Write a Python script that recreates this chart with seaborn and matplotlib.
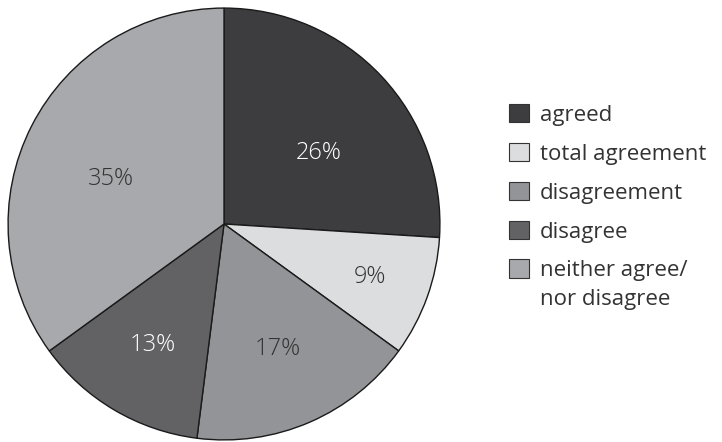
import matplotlib
matplotlib.use("Agg")
import matplotlib.pyplot as plt
import seaborn as sns
import numpy as np
from matplotlib.patches import Patch, Rectangle
from matplotlib.legend_handler import HandlerPatch

categories = ["agreed", "total agreement", "disagreement", "disagree", "neither agree/\nnor disagree"]
values = [26, 9, 17, 13, 35]
colors = ["#3d3d3f", "#dcdddf", "#939497", "#626164", "#a8a9ac"]
label_colors = ["white", "#333333", "#333333", "white", "#333333"]
label_dist = [0.55, 0.72, 0.63, 0.65, 0.565]
label_turn = [-6.4, 0.0, 0.0, 0.0, 5.5]  # degrees

sns.set_theme(style="white")
plt.rcParams['font.family'] = ['Open Sans', 'DejaVu Sans']

W, H = 722, 442
fig = plt.figure(figsize=(W / 100, H / 100), dpi=100)
cx, cy, r = 224, 442 - 224, 217
ax = fig.add_axes([(cx - r) / W, (cy - r) / H, 2 * r / W, 2 * r / H])

wedges, texts, autotexts = ax.pie(
    values, colors=colors, startangle=90, counterclock=False,
    autopct=lambda p: f"{p:.0f}%", pctdistance=1.0,
    wedgeprops=dict(edgecolor="#1a1a1a", linewidth=1.0),
    textprops=dict(fontsize=17, fontweight="light"))
for t, c, d, a in zip(autotexts, label_colors, label_dist, label_turn):
    x, y = t.get_position()
    ang = np.arctan2(y, x) + np.deg2rad(a)
    t.set_position((d * np.cos(ang), d * np.sin(ang)))
    t.set_color(c)
ax.set_xlim(-1.005, 1.005)
ax.set_ylim(-1.005, 1.005)
ax.set_aspect("equal")
ax.axis("off")


def top_line_patch(legend, orig_handle, xdescent, ydescent, width, height, fontsize):
    return Rectangle((-xdescent, -ydescent + 0.75 * fontsize), width, height)


handles = [Patch(facecolor=c, edgecolor="#333333", linewidth=0.8) for c in colors]
leg = fig.legend(handles, categories, loc="upper left", bbox_to_anchor=(489 / W, 0.81),
                 frameon=False, fontsize=16, handlelength=0.9, handleheight=0.9,
                 handletextpad=0.5, labelspacing=0.77, labelcolor="#333333",
                 handler_map={handles[-1]: HandlerPatch(patch_func=top_line_patch)})
for t in leg.get_texts():
    t.set_linespacing(1.5)

fig.savefig("out.png", dpi=100)
